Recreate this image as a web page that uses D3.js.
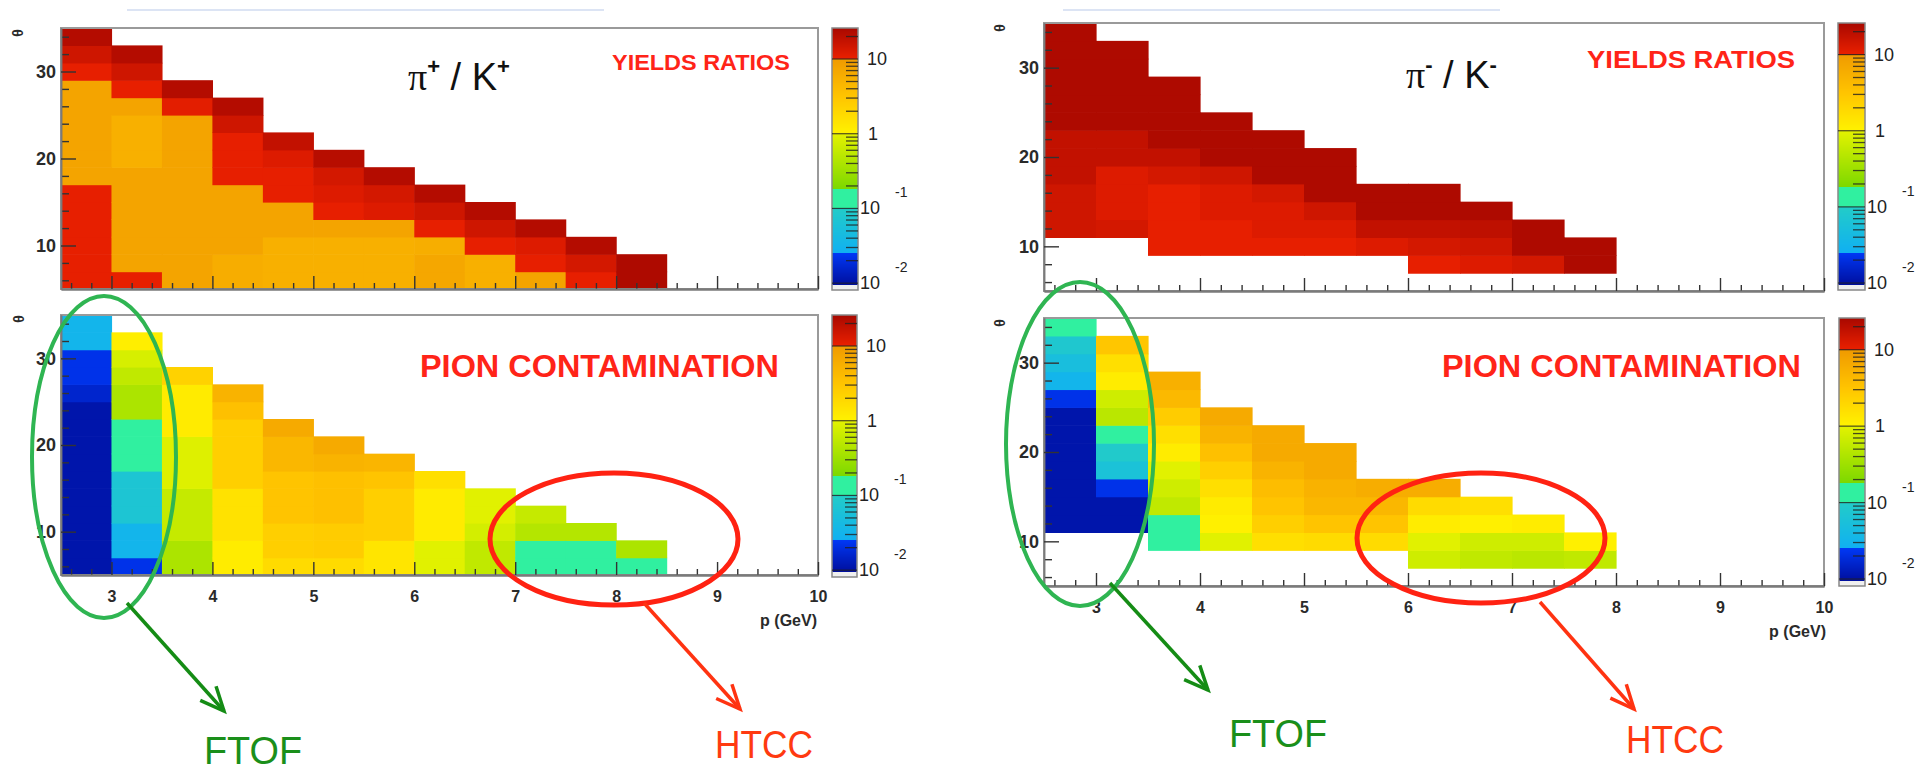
<!DOCTYPE html>
<html><head><meta charset="utf-8">
<script src="https://cdn.jsdelivr.net/npm/d3@7"></script>
<style>
body{margin:0;background:#fff;}
svg{display:block;font-family:"Liberation Sans",Arial,Helvetica,sans-serif;}
</style>
</head><body>
<svg id="c" width="1917" height="773"></svg>
<script>
const _ = null;
// p bins (GeV, lower edges, 0.5 wide) and theta bins (deg, lower edges, 2 wide)
const pBinLow = [2.5,3,3.5,4,4.5,5,5.5,6,6.5,7,7.5,8];
const thetaBinLow = [5,7,9,11,13,15,17,19,21,23,25,27,29,31,33];
const xTickLabels = [3,4,5,6,7,8,9,10];
const yTickLabels = [10,20,30];
const zTickValues = [10,1,0.1,0.01];
const zTickBase = ["10","1","10","10"];
const zTickExp = ["","","-1","-2"];

// each column = one p bin, values listed bottom (theta 5-7) to top (theta 33-35)
const piPlusKPlusYield = [
 [10.5,10.5,10.5,10.5,10.5,10.5,7.5,7.5,7.5,7.5,7.5,7.5,10.5,15,22],
 [10.5,7.5,7.5,7.5,7.5,7.5,7.5,5.5,5.5,5.5,7.5,10.5,15,22,_],
 [7.5,7.5,7.5,7.5,7.5,7.5,7.5,7.5,7.5,7.5,11,22,_,_,_],
 [6,6,7.5,7.5,7.5,7.5,10.5,10.5,10.5,15,22,_,_,_,_],
 [5.5,5.5,5.5,7.5,7.5,10.5,10.5,12,18,_,_,_,_,_,_],
 [5.5,5.5,5.5,7.5,10.5,12,14,21,_,_,_,_,_,_,_],
 [5.5,5.5,5.5,7.5,12,14,22,_,_,_,_,_,_,_,_],
 [7,7,5.8,10.5,15,22,_,_,_,_,_,_,_,_,_],
 [5.5,5.5,10.5,15,22,_,_,_,_,_,_,_,_,_,_],
 [7.5,10.5,12,22,_,_,_,_,_,_,_,_,_,_,_],
 [10.5,14,22,_,_,_,_,_,_,_,_,_,_,_,_],
 [24,24,_,_,_,_,_,_,_,_,_,_,_,_,_]
];
const piPlusContamination = [
 [0.011,0.011,0.011,0.011,0.011,0.011,0.011,0.011,0.011,0.011,0.016,0.022,0.022,0.032,0.032],
 [0.022,0.032,0.032,0.07,0.07,0.07,0.13,0.13,0.13,0.4,0.4,0.55,0.8,1.1,_],
 [0.4,0.4,0.6,0.6,0.6,0.9,0.9,0.9,1.2,1.2,1.2,2.2,_,_,_],
 [1.15,1.15,1.5,1.5,1.5,2.4,2.4,2.4,2.4,3.5,5,_,_,_,_],
 [1.8,2.4,2.4,3.2,3.2,3.2,4.5,4.5,6.5,_,_,_,_,_,_],
 [1.8,2.6,2.6,3.5,3.5,3.5,5,6.5,_,_,_,_,_,_,_],
 [1.4,1.4,2.4,2.4,2.4,3.2,4.8,_,_,_,_,_,_,_,_],
 [0.95,0.95,1.2,1.2,1.2,1.6,_,_,_,_,_,_,_,_,_],
 [0.55,0.55,0.75,0.95,0.95,_,_,_,_,_,_,_,_,_,_],
 [0.13,0.13,0.45,0.6,_,_,_,_,_,_,_,_,_,_,_],
 [0.1,0.13,0.45,_,_,_,_,_,_,_,_,_,_,_,_],
 [0.1,0.4,_,_,_,_,_,_,_,_,_,_,_,_,_]
];
const piMinusKMinusYield = [
 [_,_,_,15,15,15,18,18,18,24,24,24,24,24,24],
 [_,_,_,14,12,12,12,18,18,24,24,24,24,24,_],
 [_,_,10.5,10.5,10.5,10.5,14,18,24,24,24,24,_,_,_],
 [_,_,10.5,10.5,12,12,15,24,24,24,_,_,_,_,_],
 [_,_,10.5,12,12,14,24,24,24,_,_,_,_,_,_],
 [_,_,10.5,12,15,24,24,24,_,_,_,_,_,_,_],
 [_,_,12,18,24,24,_,_,_,_,_,_,_,_,_],
 [_,10.5,14,18,24,24,_,_,_,_,_,_,_,_,_],
 [_,12,15,19,24,_,_,_,_,_,_,_,_,_,_],
 [_,14,24,24,_,_,_,_,_,_,_,_,_,_,_],
 [_,24,24,_,_,_,_,_,_,_,_,_,_,_,_]
];
const piMinusContamination = [
 [_,_,_,0.011,0.011,0.011,0.011,0.011,0.011,0.011,0.022,0.032,0.05,0.08,0.13],
 [_,_,_,0.011,0.011,0.022,0.06,0.09,0.13,0.5,0.7,1.15,1.6,3,_],
 [_,_,0.1,0.1,0.55,0.7,0.95,1.15,1.6,2.6,4.3,5.5,_,_,_],
 [_,_,0.95,1.05,1.2,1.6,2.4,3.5,5,6.5,_,_,_,_,_],
 [_,_,1.6,2.4,3.2,3.8,5,6.5,6.5,_,_,_,_,_,_],
 [_,_,1.8,3.2,4.5,5.2,6.5,6.5,_,_,_,_,_,_,_],
 [_,_,1.8,3.2,4.5,6,_,_,_,_,_,_,_,_,_],
 [_,0.7,0.95,1.15,1.8,6,_,_,_,_,_,_,_,_,_],
 [_,0.55,0.7,1.05,1.6,_,_,_,_,_,_,_,_,_,_],
 [_,0.5,0.7,1.15,_,_,_,_,_,_,_,_,_,_,_],
 [_,0.55,1.05,_,_,_,_,_,_,_,_,_,_,_,_]
];

// ROOT-like palette on log10(z)
const paletteStops = [
 [-2.09,'#000890'],[-1.6001,'#0038f5'],[-1.6,'#10b0f2'],[-1.0001,'#22ccc8'],
 [-1.0,'#30f0a0'],[-0.7451,'#30f0a0'],[-0.745,'#7cd800'],[-0.0001,'#e4f200'],
 [0,'#fff200'],[0.5,'#ffc400'],[0.9999,'#f09a00'],[1.0,'#ea2000'],[1.416,'#a80800']
];
const color = d3.scaleLinear().domain(paletteStops.map(d=>d[0])).range(paletteStops.map(d=>d[1])).clamp(true);

const svg = d3.select('#c');
const FONT = '"Liberation Sans",Arial,sans-serif';

// faint header lines
svg.append('line').attr('x1',127).attr('x2',604).attr('y1',10).attr('y2',10).attr('stroke','#dce4f4').attr('stroke-width',2);
svg.append('line').attr('x1',1063).attr('x2',1500).attr('y1',10).attr('y2',10).attr('stroke','#dce4f4').attr('stroke-width',2);

const panels = [
 {data:piPlusKPlusYield, x0:61,x1:818,y0:28,y1:289, cb:[832,858,28,290], xlab:false, theta:[18,33]},
 {data:piPlusContamination, x0:61,x1:818,y0:315,y1:575, cb:[832,857,315,577], xlab:true, theta:[19,319], plab:[817,626]},
 {data:piMinusKMinusYield, x0:1044,x1:1824,y0:23,y1:291, cb:[1838,1865,23,290], xlab:false, theta:[1000,28]},
 {data:piMinusContamination, x0:1044,x1:1824,y0:318,y1:586, cb:[1839,1865,318,586], xlab:true, theta:[1000,323], plab:[1826,637]}
];

panels.forEach(P => {
  const g = svg.append('g');
  const x = d3.scaleLinear().domain([2.5,10]).range([P.x0,P.x1]);
  const y = d3.scaleLinear().domain([5,35]).range([P.y1,P.y0]);
  // cells
  const cells = [];
  P.data.forEach((col,i) => col.forEach((v,j) => { if (v!=null) cells.push({p:pBinLow[i], t:thetaBinLow[j], v}); }));
  g.selectAll('rect.cell').data(cells).join('rect').attr('class','cell')
    .attr('x', d=>x(d.p)).attr('width', d=>x(d.p+0.5)-x(d.p)+0.6)
    .attr('y', d=>y(d.t+2)).attr('height', d=>y(d.t)-y(d.t+2)+0.6)
    .attr('fill', d=>color(Math.log10(d.v)));
  // frame
  g.append('rect').attr('x',P.x0).attr('y',P.y0).attr('width',P.x1-P.x0).attr('height',P.y1-P.y0)
    .attr('fill','none').attr('stroke','#9a9a9a').attr('stroke-width',2);
  // x axis: minor and major ticks (inward)
  const minor = d3.range(2.6,10,0.2).filter(v=>Math.abs(v-Math.round(v))>0.05);
  const axMinor = d3.axisBottom(x).tickValues(minor).tickSize(-6).tickSizeOuter(0).tickFormat('');
  const gxm = g.append('g').attr('transform',`translate(0,${P.y1})`).call(axMinor);
  const axMajor = d3.axisBottom(x).tickValues(xTickLabels).tickSize(-13).tickSizeOuter(0).tickPadding(16)
    .tickFormat(P.xlab ? d3.format('d') : '');
  const gx = g.append('g').attr('transform',`translate(0,${P.y1})`).call(axMajor);
  [gxm,gx].forEach(a => { a.select('.domain').attr('stroke','#7a7a7a').attr('stroke-width',2);
    a.selectAll('.tick line').attr('stroke','#333').attr('stroke-width',1.4); });
  gx.selectAll('text').attr('font-size',16).attr('font-weight','bold').attr('font-family',FONT).attr('fill','#2a2a2a');
  // y axis
  const yMinor = d3.range(6,35,2).filter(v=>v%10!==0);
  const gym = g.append('g').attr('transform',`translate(${P.x0},0)`)
    .call(d3.axisLeft(y).tickValues(yMinor).tickSize(-8).tickSizeOuter(0).tickFormat(''));
  const gy = g.append('g').attr('transform',`translate(${P.x0},0)`)
    .call(d3.axisLeft(y).tickValues(yTickLabels).tickSize(-15).tickSizeOuter(0).tickPadding(5));
  [gym,gy].forEach(a => { a.select('.domain').attr('stroke','#7a7a7a').attr('stroke-width',1.5);
    a.selectAll('.tick line').attr('stroke','#333').attr('stroke-width',1.4); });
  gy.selectAll('text').attr('font-size',18).attr('font-weight','bold').attr('font-family',FONT).attr('fill','#2a2a2a');
  // theta label
  g.append('text').attr('transform',`translate(${P.theta[0]},${P.theta[1]}) rotate(-90)`)
    .attr('text-anchor','middle').attr('dominant-baseline','central')
    .attr('font-size',14).attr('font-weight','bold').attr('fill','#2a2a2a').text('θ');
  if (P.plab) g.append('text').attr('x',P.plab[0]).attr('y',P.plab[1]).attr('text-anchor','end')
    .attr('font-size',16).attr('font-weight','bold').attr('fill','#2a2a2a').text('p (GeV)');
  // colorbar
  const [cx0,cx1,cy0,cy1] = P.cb;
  const z = d3.scaleLog().domain([0.0081,26]).range([cy1,cy0]);
  const strips = d3.range(cy0, cy1, 1);
  g.selectAll('rect.cb').data(strips).join('rect').attr('class','cb')
    .attr('x',cx0).attr('width',cx1-cx0).attr('y',d=>d).attr('height',1.2)
    .attr('fill', d => { const lv = Math.log10(z.invert(d+0.5)); return lv < -2.03 ? '#efefef' : color(lv); });
  g.append('rect').attr('x',cx0).attr('y',cy0).attr('width',cx1-cx0).attr('height',cy1-cy0)
    .attr('fill','none').attr('stroke','#888').attr('stroke-width',1.5);
  // colorbar ticks
  const zMinor = [];
  [0.01,0.1,1,10].forEach(b => d3.range(2,10).forEach(k => { const v=b*k; if (v<26) zMinor.push(v); }));
  g.selectAll('line.zmin').data(zMinor).join('line').attr('class','zmin')
    .attr('x1',cx1-12).attr('x2',cx1).attr('y1',d=>z(d)).attr('y2',d=>z(d))
    .attr('stroke','#222').attr('stroke-width',1.3).attr('opacity',0.8);
  g.selectAll('line.zmaj').data(zTickValues).join('line').attr('class','zmaj')
    .attr('x1',cx0).attr('x2',cx1).attr('y1',d=>z(d)).attr('y2',d=>z(d))
    .attr('stroke','#222').attr('stroke-width',1.2).attr('opacity',0.8);
  zTickValues.forEach((v,i) => {
    const hasExp = zTickExp[i] !== '';
    g.append('text').attr('x', hasExp ? cx1+2 : cx1+(zTickBase[i]==='1'?10:9)).attr('y', z(v))
      .attr('dominant-baseline','central').attr('font-size',18).attr('fill','#222').text(zTickBase[i]);
    if (hasExp) g.append('text').attr('x',cx1+37).attr('y',z(v)-16)
      .attr('dominant-baseline','central').attr('font-size',14).attr('fill','#222').text(zTickExp[i]);
  });
});

// titles
function title(xp, yp, sup) {
  const t = svg.append('text').attr('x',xp).attr('y',yp).attr('font-size',38).attr('fill','#111');
  t.append('tspan').attr('font-family','"Liberation Serif",serif').text('π');
  t.append('tspan').attr('font-size',22).attr('font-weight','bold').attr('dy',-16).text(sup);
  t.append('tspan').attr('dy',16).text(' / K');
  t.append('tspan').attr('font-size',22).attr('font-weight','bold').attr('dy',-16).text(sup);
}
title(408, 90, '+');
title(1406, 88, '-');

function redLabel(txt, xp, yp, fs, len) {
  svg.append('text').attr('x',xp).attr('y',yp).attr('font-size',fs).attr('font-weight','bold')
    .attr('fill','#ff2418').attr('textLength',len).attr('lengthAdjust','spacingAndGlyphs').text(txt);
}
redLabel('YIELDS RATIOS', 612, 70, 22, 178);
redLabel('YIELDS RATIOS', 1587, 68, 24, 208);
redLabel('PION CONTAMINATION', 420, 377, 32, 359);
redLabel('PION CONTAMINATION', 1442, 377, 32, 359);

// annotations
const ellipses = [
  {cx:104, cy:457, rx:72, ry:161, c:'#2fb552', w:4},
  {cx:614, cy:539, rx:124, ry:66, c:'#ff2212', w:5},
  {cx:1080, cy:444, rx:74, ry:162, c:'#2fb552', w:4},
  {cx:1481, cy:538, rx:124, ry:65, c:'#ff2212', w:5}
];
svg.selectAll('ellipse.ann').data(ellipses).join('ellipse').attr('class','ann')
  .attr('cx',d=>d.cx).attr('cy',d=>d.cy).attr('rx',d=>d.rx).attr('ry',d=>d.ry)
  .attr('fill','none').attr('stroke',d=>d.c).attr('stroke-width',d=>d.w);

const arrows = [
  {x1:127,y1:603,x2:224,y2:711,c:'#158c15'},
  {x1:644,y1:603,x2:740,y2:709,c:'#ff3311'},
  {x1:1110,y1:583,x2:1208,y2:690,c:'#158c15'},
  {x1:1540,y1:602,x2:1634,y2:709,c:'#ff3311'}
];
arrows.forEach(a => {
  const ang = Math.atan2(a.y2-a.y1, a.x2-a.x1);
  const L = 26, s = 0.42;
  const w1 = [a.x2 - L*Math.cos(ang-s), a.y2 - L*Math.sin(ang-s)];
  const w2 = [a.x2 - L*Math.cos(ang+s), a.y2 - L*Math.sin(ang+s)];
  svg.append('line').attr('x1',a.x1).attr('y1',a.y1).attr('x2',a.x2).attr('y2',a.y2)
    .attr('stroke',a.c).attr('stroke-width',3.5);
  svg.append('path').attr('d',`M${w1[0]},${w1[1]}L${a.x2},${a.y2}L${w2[0]},${w2[1]}`)
    .attr('fill','none').attr('stroke',a.c).attr('stroke-width',3.5);
});

const labels = [
  {t:'FTOF', x:204, y:764, c:'#1a8f1a'},
  {t:'HTCC', x:715, y:758, c:'#ff3a10'},
  {t:'FTOF', x:1229, y:747, c:'#1a8f1a'},
  {t:'HTCC', x:1626, y:753, c:'#ff3a10'}
];
svg.selectAll('text.ann').data(labels).join('text').attr('class','ann')
  .attr('x',d=>d.x).attr('y',d=>d.y).attr('font-size',38).attr('fill',d=>d.c)
  .attr('textLength',98).attr('lengthAdjust','spacingAndGlyphs').text(d=>d.t);
</script>
</body></html>
